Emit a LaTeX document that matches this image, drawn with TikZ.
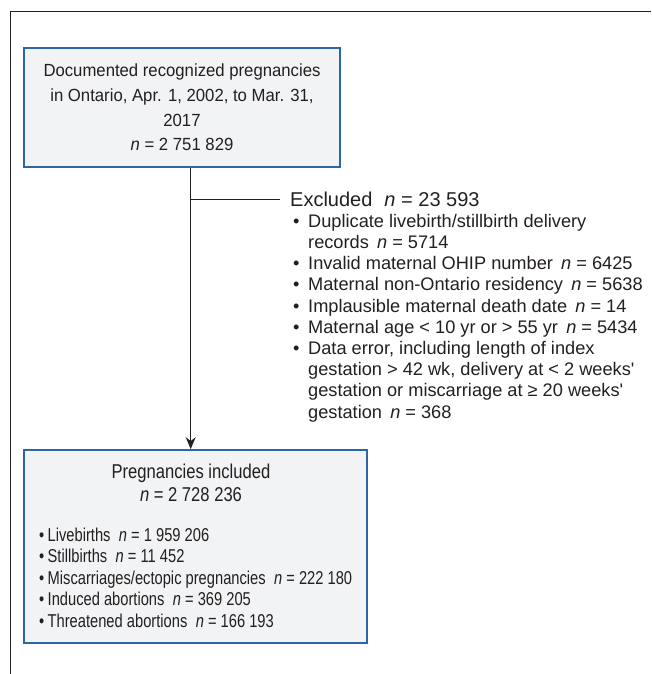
\documentclass[tikz,border=0pt]{standalone}
\usepackage{fontspec}
\setmainfont{Liberation Sans}
\newfontfamily\topfont{Liberation Sans}[FakeStretch=0.95]
\newfontfamily\narrowA{Liberation Sans}[FakeStretch=0.79]
\newfontfamily\narrowB{Liberation Sans}[FakeStretch=0.83]
\usetikzlibrary{arrows.meta}
\definecolor{boxfill}{HTML}{F2F3F4}
\definecolor{boxline}{HTML}{2D66A7}
\definecolor{ink}{HTML}{231F20}
\newcommand{\nn}{\textit{n}}
\newcommand{\gap}{\hspace{0.45em}}
\newcommand{\bul}{\makebox[15pt][l]{\textbullet}}
\newcommand{\bulB}{\makebox[8.5pt][l]{\textbullet}}
\begin{document}
\begin{tikzpicture}[x=1pt,y=-1pt,
  flowbox/.style={draw=boxline, fill=boxfill, line width=1.8pt, inner sep=0pt},
  txt/.style={text=ink, inner sep=0pt},
  conn/.style={draw=ink, line width=0.9pt}]
\useasboundingbox (0,0) rectangle (651,674);
% partial frame
\draw[ink, line width=1.4pt] (10.5,674) -- (10.5,11.5) -- (651,11.5);
% top box
\node[flowbox, minimum width=316pt, minimum height=119pt, align=center, text=ink,
      font=\topfont\fontsize{17.6}{24.8}\selectfont] (top) at (182,107.5)
  {Documented recognized pregnancies\\in Ontario, Apr. 1, 2002, to Mar. 31,\\2017\\\nn{} = 2 751 829};
% bottom box
\node[flowbox, minimum width=343pt, minimum height=193pt] (bot) at (195.5,546.5) {};
\node[txt, align=center, font=\narrowB\fontsize{20}{23}\selectfont] (bt) at (191,483)
  {Pregnancies included\\\nn{} = 2 728 236};
\node[txt, align=left, anchor=west, font=\narrowA\fontsize{18.6}{21.5}\selectfont] (bl) at (39,577.5)
  {\bulB Livebirths\gap\nn{} = 1 959 206\\
   \bulB Stillbirths\gap\nn{} = 11 452\\
   \bulB Miscarriages/ectopic pregnancies\gap\nn{} = 222 180\\
   \bulB Induced abortions\gap\nn{} = 369 205\\
   \bulB Threatened abortions\gap\nn{} = 166 193};
% excluded
\node[txt, anchor=west, font=\fontsize{20}{21}\selectfont] (ex) at (290,199)
  {Excluded\hspace{0.6em}\nn{} = 23 593};
\node[txt, anchor=west, align=left, font=\fontsize{18.2}{21.2}\selectfont] (exl) at (293,318)
  {\bul Duplicate livebirth/stillbirth delivery\\
   \hspace{15pt}records\gap\nn{} = 5714\\
   \bul Invalid maternal OHIP number\gap\nn{} = 6425\\
   \bul Maternal non-Ontario residency\gap\nn{} = 5638\\
   \bul Implausible maternal death date\gap\nn{} = 14\\
   \bul Maternal age < 10 yr or > 55 yr\gap\nn{} = 5434\\
   \bul Data error, including length of index\\
   \hspace{15pt}gestation > 42 wk, delivery at < 2 weeks\textquotesingle\\
   \hspace{15pt}gestation or miscarriage at ≥ 20 weeks\textquotesingle\\
   \hspace{15pt}gestation\gap\nn{} = 368};
% connectors
\coordinate (a) at ([xshift=8.7pt]top.south);
\coordinate (j) at (a |- ex.west);
\coordinate (jend) at ([xshift=-10pt]ex.west);
\draw[conn, -{Stealth[length=12pt,width=10pt,inset=4pt]}] (a) -- (a |- bot.north);
\draw[conn] (j) -- (jend);
\end{tikzpicture}
\end{document}
